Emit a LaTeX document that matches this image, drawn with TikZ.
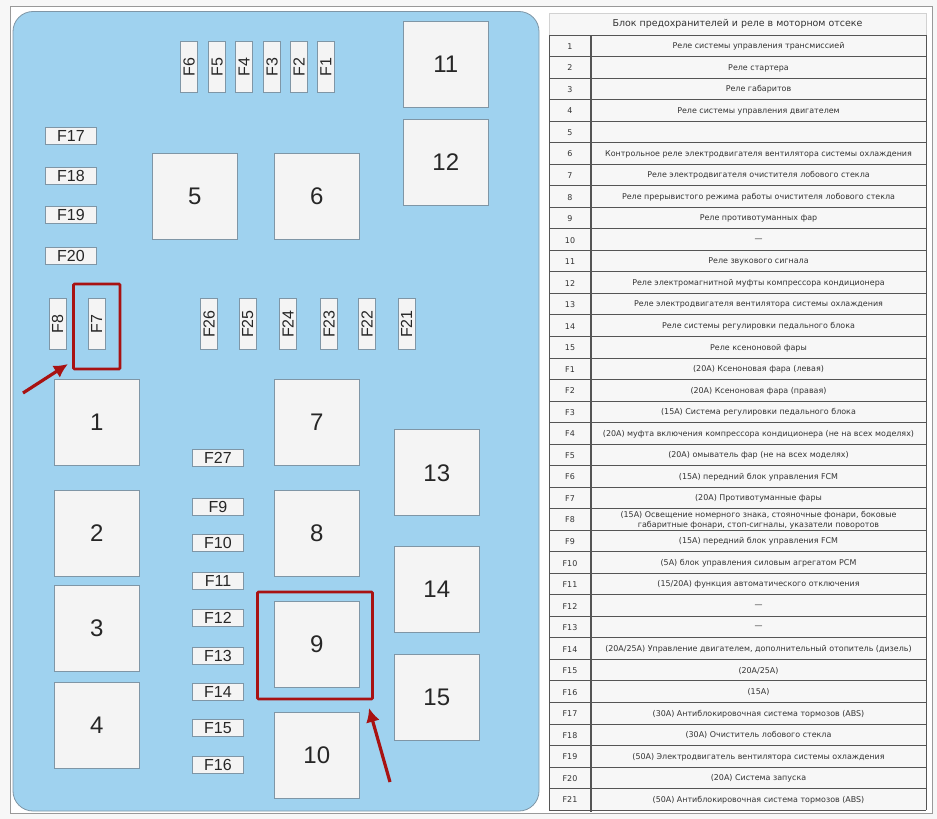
\documentclass[tikz,border=0pt]{standalone}
\usepackage{fontspec}
\usetikzlibrary{arrows.meta}
\setmainfont{Liberation Sans}
\newfontfamily\tablefont{DejaVu Sans}
\definecolor{panelblue}{HTML}{9FD2EF}
\definecolor{boxfill}{HTML}{F4F4F4}
\definecolor{boxedge}{HTML}{7F96A6}
\definecolor{markred}{HTML}{A81212}
\definecolor{gridgray}{HTML}{555555}
\definecolor{textgray}{HTML}{333333}
\definecolor{pagegray}{HTML}{F7F7F7}
\tikzset{
  relay/.style={draw=boxedge,fill=boxfill,line width=0.9pt,minimum width=85pt,minimum height=86pt,inner sep=0pt,text=black!85,font=\fontsize{24}{24}\selectfont},
  fuseh/.style={draw=boxedge,fill=boxfill,line width=0.9pt,minimum width=51pt,minimum height=17pt,inner sep=0pt,text=black!85,font=\fontsize{16}{16}\selectfont},
  fusev/.style={fuseh,rotate=90},
  marker/.style={draw=markred,line width=2.6pt,rounded corners=1pt},
  pointer/.style={draw=markred,line width=3.2pt,-{Latex[length=14pt,width=14pt]}},
  cell/.style={inner sep=0pt,align=center,text=textgray,font=\tablefont\fontsize{7.95}{9.6}\selectfont},
}
\begin{document}
\begin{tikzpicture}[x=1pt,y=-1pt]
  \useasboundingbox (0,0) rectangle (937,819);
  \fill[pagegray] (0,0) rectangle (937,819);
  \draw[gray!80,fill=white,line width=1pt] (10,6) rectangle (932,813.5);

  % blue panel
  \draw[fill=panelblue,draw=boxedge,line width=0.8pt,rounded corners=20pt] (13,11.5) rectangle (539,811);

  % relays
  \foreach \name/\x/\y in {1/96.8/422,2/96.8/533.5,3/96.8/628.5,4/96.8/725,5/194.8/196.3,6/316.8/196.3,7/316.8/422,8/316.8/533.5,9/316.8/644.5,10/316.8/755.5,11/445.8/64.3,12/445.8/162.3,13/436.8/472.8,14/436.8/589.3,15/436.8/697.3}
    \node[relay] (r\name) at (\x,\y) {\name};

  % fuses standing up
  \foreach \name/\x/\y in {F6/189/67,F5/217.2/67,F4/244/67,F3/272/67,F2/299/67,F1/325.8/67,F8/57.5/324,F7/96.5/324,F26/209/324,F25/247.5/324,F24/288/324,F23/329/324,F22/367/324,F21/406.6/324}
    \node[fusev] (\name) at (\x,\y) {\name};

  % fuses lying flat
  \foreach \name/\x/\y in {F17/71/136,F18/71/176,F19/71/215,F20/71/256,F27/218/458,F9/218/507,F10/218/543,F11/218/581,F12/218/618,F13/218/656,F14/218/692,F15/218/728,F16/218/765}
    \node[fuseh] (\name) at (\x,\y) {\name};

  % red marks
  \draw[marker] (73.5,284) rectangle (120,369);
  \draw[marker] (257.5,592) rectangle (372.5,699);
  \coordinate (arrowA) at (23,393);
  \coordinate (tipA) at (68,364);
  \coordinate (arrowB) at (390,782);
  \coordinate (tipB) at (369,708);
  \draw[pointer] (arrowA) -- (tipA);
  \draw[pointer] (arrowB) -- (tipB);

  % table
  \fill[pagegray] (549,13) rectangle (926,810);
  \node[cell,font=\tablefont\fontsize{9.45}{10}\selectfont] (title) at (737.5,24) {Блок предохранителей и реле в моторном отсеке};
  \foreach \i/\key/\txt in {
    0/1/{Реле системы управления трансмиссией},
    1/2/{Реле стартера},
    2/3/{Реле габаритов},
    3/4/{Реле системы управления двигателем},
    4/5/{},
    5/6/{Контрольное реле электродвигателя вентилятора системы охлаждения},
    6/7/{Реле электродвигателя очистителя лобового стекла},
    7/8/{Реле прерывистого режима работы очистителя лобового стекла},
    8/9/{Реле противотуманных фар},
    9/10/{—},
    10/11/{Реле звукового сигнала},
    11/12/{Реле электромагнитной муфты компрессора кондиционера},
    12/13/{Реле электродвигателя вентилятора системы охлаждения},
    13/14/{Реле системы регулировки педального блока},
    14/15/{Реле ксеноновой фары},
    15/F1/{(20A) Ксеноновая фара (левая)},
    16/F2/{(20A) Ксеноновая фара (правая)},
    17/F3/{(15A) Система регулировки педального блока},
    18/F4/{(20A) муфта включения компрессора кондиционера (не на всех моделях)},
    19/F5/{(20A) омыватель фар (не на всех моделях)},
    20/F6/{(15A) передний блок управления FCM},
    21/F7/{(20A) Противотуманные фары},
    22/F8/{(15A) Освещение номерного знака, стояночные фонари, боковые\\габаритные фонари, стоп-сигналы, указатели поворотов},
    23/F9/{(15A) передний блок управления FCM},
    24/F10/{(5A) блок управления силовым агрегатом PCM},
    25/F11/{(15/20A) функция автоматического отключения},
    26/F12/{—},
    27/F13/{—},
    28/F14/{(20A/25A) Управление двигателем, дополнительный отопитель (дизель)},
    29/F15/{(20A/25A)},
    30/F16/{(15A)},
    31/F17/{(30A) Антиблокировочная система тормозов (ABS)},
    32/F18/{(30A) Очиститель лобового стекла},
    33/F19/{(50A) Электродвигатель вентилятора системы охлаждения},
    34/F20/{(20A) Система запуска},
    35/F21/{(50A) Антиблокировочная система тормозов (ABS)}} {
    \draw[gridgray,line width=0.9pt] (549,35+\i*21.53) -- (926,35+\i*21.53);
    \node[cell] (key\key) at (570,46.4+\i*21.53) {\key};
    \node[cell] (txt\key) at (758.5,46.4+\i*21.53) {\txt};
  }
  \draw[gridgray,line width=0.9pt] (549,810) -- (926,810);
  \draw[gridgray,line width=0.9pt] (549,35) -- (549,810);
  \draw[gridgray,line width=1.2pt] (591,35) -- (591,812);
  \draw[gridgray,line width=0.9pt] (926,35) -- (926,810);
  \draw[gray!35,line width=0.8pt] (549,35) -- (549,13) -- (926,13) -- (926,35);
\end{tikzpicture}
\end{document}
